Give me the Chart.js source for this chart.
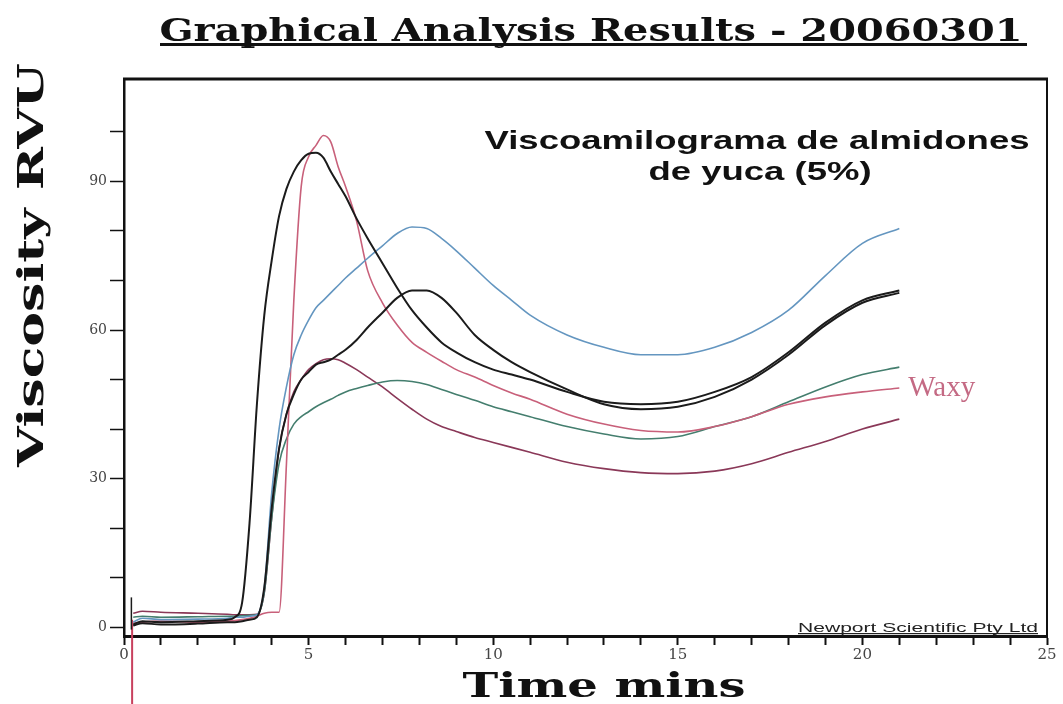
<!DOCTYPE html>
<html>
<head>
<meta charset="utf-8">
<title>Graphical Analysis Results - 20060301</title>
<script src="https://cdn.jsdelivr.net/npm/chart.js@4.4.1/dist/chart.umd.min.js"></script>
<style>
  html, body { margin: 0; padding: 0; background: #fff; }
  canvas { display: block; }
</style>
</head>
<body>
<canvas id="rvaChart" width="1063" height="704"></canvas>
<script>
// RVA pasting curves: viscosity (RVU) against time (min)
const times = [0.25, 0.5, 1, 2, 2.8, 3.0, 3.2, 3.4, 3.6, 3.8, 4.0, 4.2, 4.4, 4.6, 4.8,
  5.0, 5.2, 5.4, 5.6, 5.8, 6.0, 6.3, 6.6, 7.0, 7.4, 7.8, 8.2, 8.6, 9.0, 9.5,
  10, 10.5, 11, 12, 13, 14, 15, 16, 17, 18, 19, 20, 21];

const blackA = [0.5, 1.2, 1.0, 1.2, 1.5, 2.0, 5, 21, 45, 63, 74, 83, 88.5, 92, 94.3,
  95.6, 95.8, 94.8, 92, 89.5, 87, 82.5, 78.5, 73.5, 68.5, 64, 60.5, 57.5, 55.5, 53.5,
  52, 51, 50, 47.5, 45.5, 45, 45.5, 47.5, 50.5, 55.5, 61.5, 66, 68];
const blackB = [0.3, 0.8, 0.5, 0.7, 1.0, 1.0, 1.2, 1.5, 2, 8, 24, 36, 43, 47, 50,
  51.5, 53, 53.5, 54, 55, 56, 58, 60.5, 63.5, 66.5, 68, 68, 66.5, 63.5, 59,
  56, 53.5, 51.5, 48, 45, 44, 44.5, 46.5, 50, 55, 61, 65.5, 67.5];
const blue = [1.0, 1.8, 1.5, 1.6, 1.8, 2.0, 2.0, 2.2, 2.5, 8, 27, 40, 48.5, 55, 59,
  62, 64.5, 66, 67.5, 69, 70.5, 72.5, 74.5, 77, 79.5, 80.8, 80.5, 78.5, 76, 72.5,
  69, 66, 63, 59, 56.5, 55, 55, 56.5, 59.5, 64, 71, 77.5, 80.5];
const waxy = [0.8, 1.0, 1.2, 1.0, 1.2, 1.3, 1.5, 1.8, 2.2, 2.8, 3.0, 3.0, 33, 66, 89,
  95, 97.3, 99.3, 98, 93, 89, 82, 72, 65.5, 61, 57.5, 55.5, 53.7, 52, 50.5,
  48.8, 47.3, 46, 43, 41, 39.7, 39.4, 40.5, 42.5, 45, 46.5, 47.5, 48.3];
const green = [2.0, 2.2, 2.0, 2.1, 2.2, 2.2, 2.3, 2.4, 2.5, 7, 22, 33, 38, 41, 42.5,
  43.5, 44.5, 45.3, 46, 46.8, 47.5, 48.2, 48.8, 49.5, 49.8, 49.6, 49, 48, 47, 45.8,
  44.5, 43.5, 42.5, 40.5, 39, 38, 38.5, 40.5, 42.5, 45.5, 48.5, 51, 52.5];
const maroon = [2.8, 3.2, 3.0, 2.8, 2.6, 2.5, 2.5, 2.5, 2.6, 7, 22, 36, 43, 47.5, 50,
  52, 53.2, 54, 54.2, 54, 53.3, 52, 50.5, 48.5, 46.2, 44, 42, 40.5, 39.5, 38.3,
  37.3, 36.3, 35.3, 33.3, 32, 31.2, 31, 31.5, 33, 35.3, 37.5, 40, 42];

// start-of-run spike and the temperature trace entering from below
const spikeT = [0.2, 0.2];
const spikeV = [-0.5, 6];
const tempT = [0.22, 0.22];
const tempV = [1.5, -16];

const yTickValues = [0, 10, 20, 30, 40, 50, 60, 70, 80, 90, 100];
const yLabelled = [0, 30, 60, 90];
const xLabelled = [0, 5, 10, 15, 20, 25];

const pts = (xs, ys) => xs.map((x, i) => ({ x, y: ys[i] }));

function curve(label, ys, color, width) {
  return {
    label,
    data: pts(times, ys),
    borderColor: color,
    borderWidth: width,
    pointRadius: 0,
    cubicInterpolationMode: 'monotone',
    fill: false
  };
}

// draws text stretched horizontally by sx
function drawWide(ctx, text, x, y, sx, angle) {
  ctx.save();
  ctx.translate(x, y);
  if (angle) ctx.rotate(angle);
  ctx.scale(sx, 1);
  ctx.fillText(text, 0, 0);
  ctx.restore();
}

const decorations = {
  id: 'decorations',
  afterDraw(chart) {
    const { ctx, chartArea: a } = chart;
    ctx.save();

    // frame top and right
    ctx.strokeStyle = '#111';
    ctx.lineWidth = 3;
    ctx.beginPath();
    ctx.moveTo(a.left - 1, a.top);
    ctx.lineTo(a.right + 1, a.top);
    ctx.stroke();
    ctx.lineWidth = 2;
    ctx.beginPath();
    ctx.moveTo(a.right, a.top);
    ctx.lineTo(a.right, a.bottom);
    ctx.stroke();

    ctx.textAlign = 'center';
    ctx.textBaseline = 'alphabetic';
    ctx.fillStyle = '#111';

    // main title, underlined
    const title = 'Graphical Analysis Results - 20060301';
    ctx.font = 'bold 31px "DejaVu Serif"';
    let sx = 863 / ctx.measureText(title).width;
    drawWide(ctx, title, 591, 41, sx);
    ctx.fillRect(160, 43, 867, 3);

    // axis titles
    const yTitle = 'Viscosity RVU';
    ctx.font = 'bold 35px "DejaVu Serif"';
    sx = 404 / ctx.measureText(yTitle).width;
    drawWide(ctx, yTitle, 43, 265, sx, -Math.PI / 2);

    const xTitle = 'Time mins';
    ctx.font = 'bold 33px "DejaVu Serif"';
    sx = 283 / ctx.measureText(xTitle).width;
    drawWide(ctx, xTitle, 604, 697, sx);

    // inner title
    ctx.font = 'bold 26px "Liberation Sans"';
    const line1 = 'Viscoamilograma de almidones';
    sx = 545 / ctx.measureText(line1).width;
    drawWide(ctx, line1, 757, 149, sx);
    drawWide(ctx, 'de yuca (5%)', 760, 180, sx);

    // curve label at the end of the waxy trace
    const meta = chart.getDatasetMeta(3);
    const last = meta.data[meta.data.length - 1];
    ctx.textAlign = 'left';
    ctx.fillStyle = '#c46a84';
    ctx.font = '29px "Liberation Serif"';
    ctx.fillText('Waxy', last.x + 9, last.y + 8);

    // instrument credit
    const credit = 'Newport Scientific Pty Ltd';
    ctx.fillStyle = '#222';
    ctx.font = '12.5px "Liberation Sans"';
    sx = 240 / ctx.measureText(credit).width;
    ctx.textAlign = 'left';
    drawWide(ctx, credit, a.right - 249, a.bottom - 4, sx);
    ctx.fillRect(a.right - 249, a.bottom - 3, 240, 1.2);

    ctx.restore();
  }
};

new Chart(document.getElementById('rvaChart'), {
  type: 'line',
  data: {
    datasets: [
      curve('Muestra A', blackA, '#1b1b1b', 2),
      curve('Muestra B', blackB, '#1b1b1b', 2),
      curve('Muestra C', blue, '#6496c0', 1.6),
      curve('Waxy', waxy, '#c8607a', 1.6),
      curve('Muestra D', green, '#447e6e', 1.6),
      curve('Muestra E', maroon, '#8a3858', 1.6),
      { label: 'inicio', data: pts(spikeT, spikeV), borderColor: '#1b1b1b', borderWidth: 1.5, pointRadius: 0 },
      { label: 'temperatura', data: pts(tempT, tempV), borderColor: '#c8405e', borderWidth: 2, pointRadius: 0, clip: false }
    ]
  },
  options: {
    responsive: false,
    animation: false,
    events: [],
    layout: { padding: { top: 79, right: 16, bottom: 0, left: 0 } },
    plugins: {
      legend: { display: false },
      tooltip: { enabled: false },
      title: { display: false }
    },
    scales: {
      x: {
        type: 'linear',
        min: 0,
        max: 25,
        afterFit: s => { s.height = 68; },
        border: { color: '#111', width: 3 },
        grid: { drawOnChartArea: false, drawTicks: true, tickLength: 9, tickColor: '#111', tickWidth: 2 },
        ticks: {
          stepSize: 1,
          maxTicksLimit: 30,
          autoSkip: false,
          maxRotation: 0,
          padding: 1,
          color: '#444',
          font: { family: 'DejaVu Serif', size: 15 },
          callback: v => xLabelled.includes(v) ? String(v) : ''
        }
      },
      y: {
        min: -1.8,
        max: 110.7,
        afterFit: s => { s.width = 124; },
        afterBuildTicks: s => { s.ticks = yTickValues.map(value => ({ value })); },
        border: { color: '#111', width: 2.5 },
        grid: { drawOnChartArea: false, drawTicks: true, tickLength: 14, tickColor: '#111', tickWidth: 1.5 },
        ticks: {
          padding: 3,
          color: '#444',
          font: { family: 'DejaVu Serif', size: 14 },
          callback: v => yLabelled.includes(v) ? String(v) : ''
        }
      }
    }
  },
  plugins: [decorations]
});
</script>
</body>
</html>
